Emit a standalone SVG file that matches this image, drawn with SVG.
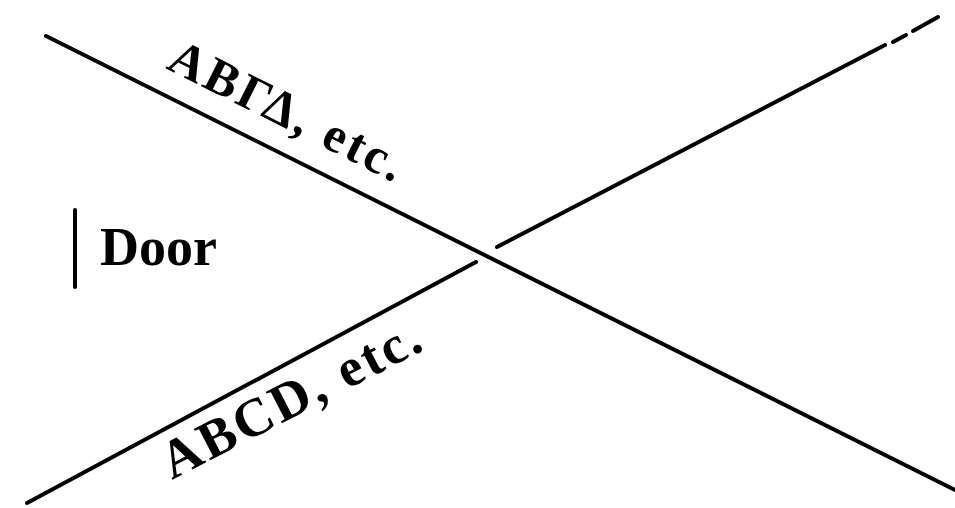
<svg xmlns="http://www.w3.org/2000/svg" width="955" height="508" viewBox="0 0 955 508">
<style>
.ln{stroke:#000;stroke-width:4;stroke-linecap:round;fill:none}
.lbl{font-family:"Liberation Serif","Times New Roman",serif;font-weight:bold;fill:#000}
</style>
<rect width="955" height="508" fill="#fff"/>
<g id="connectors">
<line class="ln" x1="46" y1="36" x2="955" y2="490"/>
<line class="ln" x1="27" y1="503" x2="476" y2="262"/>
<line class="ln" x1="497" y1="247" x2="885" y2="45"/>
<line class="ln" x1="893" y1="42" x2="906" y2="35"/>
<line class="ln" x1="913" y1="31" x2="938" y2="17"/>
</g>
<g id="label-greek">
<text class="lbl" font-size="50" transform="translate(165,68) rotate(26.57)" textLength="256" lengthAdjust="spacing">ΑΒΓΔ, etc.</text>
</g>
<g id="label-latin">
<text class="lbl" font-size="54" transform="translate(172,480) rotate(-27.3)" textLength="285" lengthAdjust="spacing">ABCD, etc.</text>
</g>
<g id="door">
<line class="ln" x1="75" y1="210" x2="75" y2="287"/>
<text class="lbl" font-size="54" x="100" y="265">Door</text>
</g>
</svg>
